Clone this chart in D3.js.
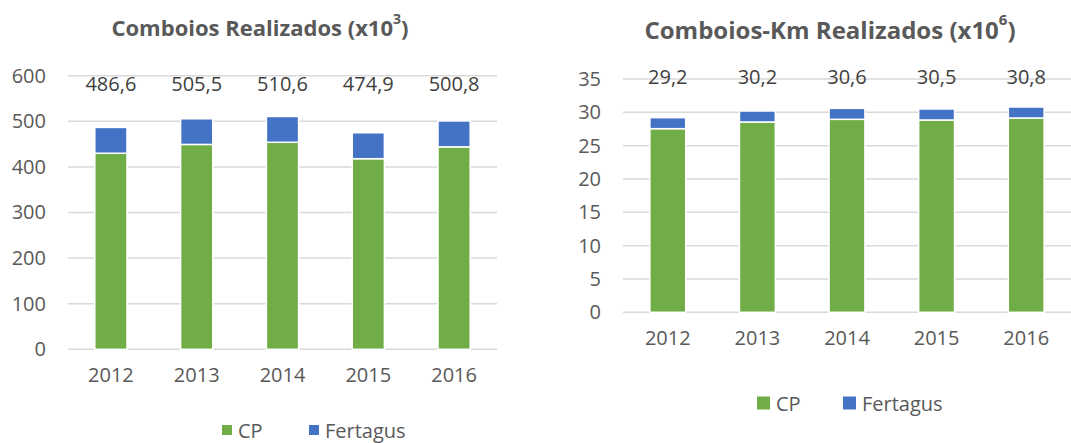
<!DOCTYPE html>
<html>
<head>
<meta charset="utf-8">
<script src="https://cdn.jsdelivr.net/npm/d3@7"></script>
<style>
	body { margin: 0; background: #fff; }
	text { font-family: "Open Sans", sans-serif; }
</style>
</head>
<body>
<div id="wrapper"></div>
<script>
const years = ["2012", "2013", "2014", "2015", "2016"];
const series = ["CP", "Fertagus"];

// comboios realizados (x10^3)
const trainsCP = [430.0, 449.3, 454.0, 418.0, 444.0];
const trainsFertagus = [56.6, 56.2, 56.6, 56.9, 56.8];
const trainsTotalLabels = ["486,6", "505,5", "510,6", "474,9", "500,8"];
const trainsTicks = [0, 100, 200, 300, 400, 500, 600];

// comboios-km realizados (x10^6)
const kmCP = [27.55, 28.55, 28.95, 28.85, 29.15];
const kmFertagus = [1.65, 1.65, 1.65, 1.65, 1.65];
const kmTotalLabels = ["29,2", "30,2", "30,6", "30,5", "30,8"];
const kmTicks = [0, 5, 10, 15, 20, 25, 30, 35];

const colors = { CP: "#70AD47", Fertagus: "#4472C4" };
const gridColor = "#D9D9D9";
const textColor = "#595959";

const svg = d3.select("#wrapper").append("svg")
	.attr("width", 1071)
	.attr("height", 443);

function drawChart(opts){
	const g = svg.append("g");

	const table = years.map((yr, i) => ({ year: yr, CP: opts.cp[i], Fertagus: opts.fert[i] }));
	const stacked = d3.stack().keys(series)(table);

	const xScaler = d3.scaleBand()
		.domain(years)
		.range([opts.left, opts.right])
		.paddingInner(opts.pad)
		.paddingOuter(opts.pad / 2);

	const yScaler = d3.scaleLinear()
		.domain([0, d3.max(opts.ticks)])
		.range([opts.bottom, opts.top]);

	// gridlines
	g.append("g").selectAll("line")
		.data(opts.ticks)
		.enter().append("line")
		.attr("x1", opts.left)
		.attr("x2", opts.right)
		.attr("y1", d => yScaler(d))
		.attr("y2", d => yScaler(d))
		.attr("stroke", gridColor)
		.attr("stroke-width", 1.5);

	// y tick labels
	const yAxis = g.append("g")
		.attr("transform", `translate(${opts.left},0)`)
		.call(d3.axisLeft(yScaler).tickValues(opts.ticks).tickSize(0).tickPadding(opts.left - opts.tickX));
	yAxis.select(".domain").remove();
	yAxis.selectAll("text")
		.attr("fill", textColor)
		.style("font-size", "20px")
		.style("font-family", "Open Sans, sans-serif");

	// x tick labels
	const xAxis = g.append("g")
		.attr("transform", `translate(0,${opts.bottom})`)
		.call(d3.axisBottom(xScaler).tickSize(0).tickPadding(opts.xLabelPad));
	xAxis.select(".domain").remove();
	xAxis.selectAll("text")
		.attr("fill", textColor)
		.style("font-size", "20px")
		.style("font-family", "Open Sans, sans-serif");

	// bars
	g.append("g").selectAll("g")
		.data(stacked)
		.enter().append("g")
		.attr("fill", d => colors[d.key])
		.selectAll("rect")
		.data(d => d)
		.enter().append("rect")
		.attr("x", d => xScaler(d.data.year))
		.attr("width", xScaler.bandwidth())
		.attr("y", d => yScaler(d[1]))
		.attr("height", d => yScaler(d[0]) - yScaler(d[1]))
		.attr("stroke", "#fff")
		.attr("stroke-width", 1.5);

	// total labels
	g.append("g").selectAll("text")
		.data(opts.labels)
		.enter().append("text")
		.attr("x", (d, i) => xScaler(years[i]) + xScaler.bandwidth() / 2)
		.attr("y", yScaler(d3.max(opts.ticks)) + opts.labelDy)
		.attr("text-anchor", "middle")
		.attr("dominant-baseline", "central")
		.attr("fill", "#404040")
		.style("font-size", "20px")
		.text(d => d);

	// title
	const title = g.append("text")
		.attr("x", opts.titleX)
		.attr("y", opts.titleY)
		.attr("text-anchor", "middle")
		.attr("dominant-baseline", "central")
		.attr("fill", textColor)
		.style("font-size", opts.titleSize + "px")
		.style("font-weight", "bold");
	title.append("tspan").text(opts.title);
	title.append("tspan").attr("dy", -opts.titleSize * 0.4).style("font-size", Math.round(opts.titleSize * 0.62) + "px").text(opts.sup);
	title.append("tspan").attr("dy", opts.titleSize * 0.4).text(")");

	// legend
	const legend = g.append("g").selectAll("g")
		.data(series)
		.enter().append("g")
		.attr("transform", (d, i) => `translate(${opts.legendX[i]},${opts.legendY})`);
	legend.append("rect")
		.attr("x", 0)
		.attr("y", -opts.legendBox / 2)
		.attr("width", opts.legendBox)
		.attr("height", opts.legendBox)
		.attr("fill", d => colors[d]);
	legend.append("text")
		.attr("x", opts.legendBox + 6)
		.attr("y", 0)
		.attr("dominant-baseline", "central")
		.attr("fill", textColor)
		.style("font-size", "20px")
		.text(d => d);
}

drawChart({
	cp: trainsCP, fert: trainsFertagus, labels: trainsTotalLabels, ticks: trainsTicks,
	left: 68, right: 497, top: 75.7, bottom: 349.3, pad: 0.625, tickX: 46,
	xLabelPad: 19, labelDy: 8,
	title: "Comboios Realizados (x10", sup: "3", titleX: 260, titleY: 27, titleSize: 22,
	legendX: [222, 309], legendY: 430, legendBox: 10
});

drawChart({
	cp: kmCP, fert: kmFertagus, labels: kmTotalLabels, ticks: kmTicks,
	left: 623, right: 1071, top: 79, bottom: 312.3, pad: 0.6, tickX: 601,
	xLabelPad: 19, labelDy: -3,
	title: "Comboios-Km Realizados (x10", sup: "6", titleX: 830, titleY: 29, titleSize: 24,
	legendX: [757, 843], legendY: 403, legendBox: 13
});
</script>
</body>
</html>
